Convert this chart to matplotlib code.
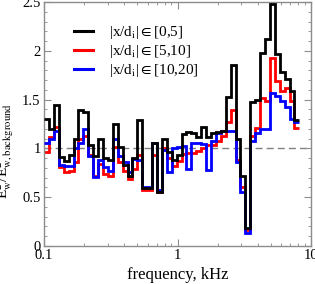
import numpy as np
import matplotlib
matplotlib.use('Agg')
import matplotlib.pyplot as plt
from matplotlib.ticker import MultipleLocator, FixedLocator, NullFormatter

plt.rcParams['font.family'] = ['Liberation Serif', 'DejaVu Serif']
plt.rcParams['mathtext.fontset'] = 'stix'

# frequency bins (kHz), uniform in log
f_edges = np.logspace(-1, np.log10(8.2), 53)

# E^2 / E^2_background for each |x/d_i| range
r_0_5 = [1.30, 1.20, 1.44, 0.91, 0.87, 0.93, 1.10, 1.39, 1.37, 1.03,
         0.92, 1.10, 0.90, 0.88, 1.25, 1.01, 0.83, 0.72, 0.90, 1.29,
         0.59, 0.59, 1.05, 0.55, 1.10, 0.96, 0.88, 0.93, 1.15, 1.17,
         1.16, 1.12, 1.22, 1.12, 1.16, 1.17, 1.18, 1.53, 1.85, 1.10,
         0.72, 0.18, 1.47, 1.50, 1.98, 2.12, 2.48, 1.97, 1.78, 1.71,
         1.59, 1.29]
r_5_10 = [0.96, 1.12, 1.22, 0.81, 0.76, 0.77, 0.86, 1.10, 1.13, 0.93,
          0.72, 0.84, 0.74, 0.72, 1.01, 0.86, 0.77, 0.69, 0.79, 0.93,
          0.57, 0.57, 0.93, 0.55, 1.00, 0.90, 0.82, 0.87, 0.94, 0.95,
          0.95, 0.97, 1.00, 1.03, 1.03, 1.08, 1.13, 1.27, 1.39, 0.88,
          0.60, 0.16, 1.13, 1.21, 1.52, 1.49, 1.93, 1.69, 1.59, 1.62,
          1.49, 1.21]
r_10_20 = [1.06, 1.10, 1.18, 0.83, 0.82, 0.82, 1.00, 1.06, 1.20, 0.92,
           0.71, 0.88, 0.81, 0.77, 1.10, 0.92, 0.86, 0.76, 0.89, 0.88,
           0.60, 0.60, 1.06, 0.57, 0.98, 0.76, 1.00, 1.01, 1.02, 0.79,
           1.05, 1.06, 1.04, 0.78, 1.08, 1.16, 1.18, 1.18, 1.18, 0.86,
           0.55, 0.13, 1.08, 1.16, 1.20, 1.20, 1.57, 1.54, 1.49, 1.42,
           1.30, 1.27]

labels = [r'|x/d$_\mathrm{i}$|$\in$[0,5]',
          r'|x/d$_\mathrm{i}$|$\in$[5,10]',
          r'|x/d$_\mathrm{i}$|$\in$[10,20]']
yticks = [0, 0.5, 1, 1.5, 2, 2.5]
ytick_labels = ['0', '0.5', '1', '1.5', '2', '2.5']

fig = plt.figure(figsize=(3.15, 2.84), dpi=100)
ax = fig.add_axes([0.14, 0.134, 0.847, 0.859])

ax.axhline(1, color='#808080', ls=(0, (5, 3)), lw=1.0, zorder=1)
ax.stairs(r_5_10, f_edges, baseline=None, color='#ff0000', lw=2.0, zorder=2)
ax.stairs(r_10_20, f_edges, baseline=None, color='#0000ff', lw=2.0, zorder=3)
ax.stairs(r_0_5, f_edges, baseline=None, color='k', lw=2.0, zorder=4)

# legend by proxies
hk, = ax.plot([], [], color='k', lw=2.2)
hr, = ax.plot([], [], color='#ff0000', lw=2.2)
hb, = ax.plot([], [], color='#0000ff', lw=2.2)
ax.legend([hk, hr, hb], labels, loc='upper left', bbox_to_anchor=(0.09, 0.935),
          frameon=False, fontsize=11, handlelength=1.25, handletextpad=1.05,
          labelspacing=0.14, borderaxespad=0)

ax.set_xscale('log')
ax.set_xlim(0.1, 10)
ax.set_ylim(0, 2.5)
ax.set_xticks([0.1, 1, 10])
ax.set_xticklabels(['0.1', '1', '10'])
ax.xaxis.set_minor_locator(FixedLocator([k * 10.0**e for e in (-1, 0) for k in range(2, 10)]))
ax.xaxis.set_minor_formatter(NullFormatter())
ax.set_yticks(yticks)
ax.set_yticklabels(ytick_labels)
ax.yaxis.set_minor_locator(MultipleLocator(0.1))

gc = '#8c8c8c'
for sp in ax.spines.values():
    sp.set_color(gc)
    sp.set_linewidth(1.0)
ax.tick_params(which='both', direction='in', top=True, right=True, color=gc,
               labelsize=10.5, pad=2.5)
ax.tick_params(which='major', length=5)
ax.tick_params(which='minor', length=2.5)

ax.set_xlabel('frequency, kHz', fontsize=12, labelpad=3)
ax.set_ylabel(r'E$^2_\mathrm{w}$/E$^2_\mathrm{w,background}$', fontsize=11)
ax.yaxis.set_label_coords(-0.105, 0.39)

fig.savefig('out.png', dpi=100)
